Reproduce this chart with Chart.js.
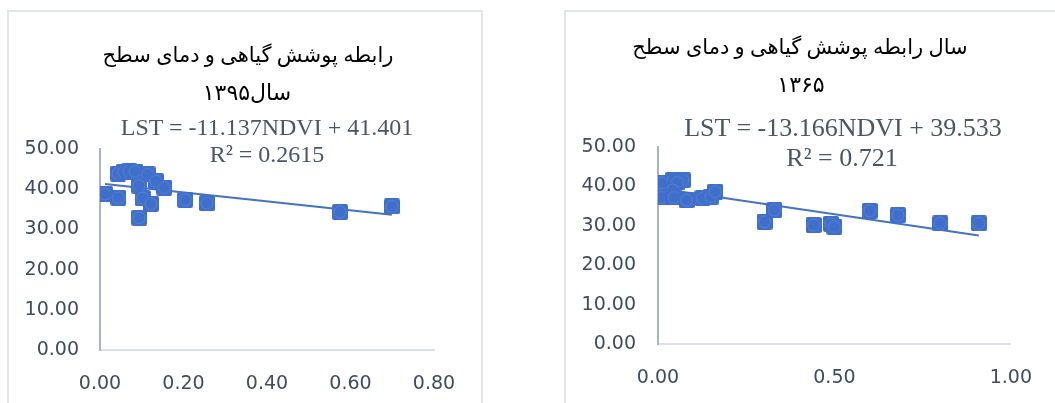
<!DOCTYPE html>
<html>
<head>
<meta charset="utf-8">
<script src="https://cdn.jsdelivr.net/npm/chart.js@4.4.0/dist/chart.umd.min.js"></script>
<style>
  html, body { margin: 0; padding: 0; background: #fff; overflow: hidden; width: 1055px; height: 403px; }
  .box { position: absolute; border: 2px solid #e1e4ea; box-sizing: border-box; background: #fff; }
  .box canvas { position: absolute; left: 0; top: 0; }
  .t { position: absolute; white-space: nowrap; line-height: 1; transform: translate(-50%, -50%); }
  .title { font-family: "Liberation Serif", "DejaVu Sans", serif; font-size: 21px; color: #000; direction: rtl; }
  .eq { font-family: "Liberation Serif", serif; color: #4a5568; }
</style>
</head>
<body>
<div class="box" id="boxL" style="left:7px; top:10px; width:476px; height:420px;">
  <canvas id="chartL"></canvas>
</div>
<div class="box" id="boxR" style="left:564px; top:10px; width:520px; height:420px;">
  <canvas id="chartR"></canvas>
</div>

<div class="t title" style="left:248px; top:55px;">رابطه پوشش گیاهی و دمای سطح</div>
<div class="t title" style="left:247px; top:93px; font-size:22px;">سال۱۳۹۵</div>
<div class="t eq" style="left:267px; top:127px; font-size:24px;">LST = -11.137NDVI + 41.401</div>
<div class="t eq" style="left:267px; top:154px; font-size:24px;">R² = 0.2615</div>

<div class="t title" style="left:800px; top:47px;">سال  رابطه پوشش گیاهی و دمای سطح</div>
<div class="t title" style="left:801px; top:85px; font-size:22px;">۱۳۶۵</div>
<div class="t eq" style="left:843px; top:128px; font-size:26px;">LST = -13.166NDVI + 39.533</div>
<div class="t eq" style="left:842px; top:158px; font-size:26px;">R² = 0.721</div>

<script>
// سال ۱۳۹۵
var ndvi1395 = [0.012, 0.044, 0.043, 0.057, 0.070, 0.084, 0.114, 0.134, 0.154, 0.094, 0.102, 0.122, 0.094, 0.204, 0.256, 0.575, 0.699];
var lst1395  = [38.8, 37.9, 43.9, 44.3, 44.5, 44.4, 43.7, 42.0, 40.4, 40.9, 37.8, 36.4, 32.9, 37.4, 36.5, 34.3, 35.7];
var trend1395 = { slope: -11.137, intercept: 41.401 };

// سال ۱۳۶۵
var ndvi1365 = [0.010, 0.010, 0.042, 0.070, 0.055, 0.042, 0.046, 0.081, 0.126, 0.150, 0.162, 0.302, 0.330, 0.441, 0.490, 0.500, 0.600, 0.680, 0.800, 0.909];
var lst1365  = [40.9, 37.2, 41.6, 41.6, 41.0, 39.1, 37.2, 36.5, 37.0, 37.4, 38.7, 31.0, 34.0, 30.2, 30.5, 29.8, 33.8, 32.7, 30.6, 30.6];
var trend1365 = { slope: -13.166, intercept: 39.533 };

var yTicks = [0, 50, 10];
var xTicks1395 = [0, 0.8, 0.2];
var xTicks1365 = [0, 1, 0.5];

// excel-like marker: blue square with a faint ring
function makeMarker() {
  var c = document.createElement('canvas');
  c.width = 16; c.height = 16;
  var g = c.getContext('2d');
  g.fillStyle = '#3f6fcb';
  g.beginPath();
  g.roundRect(0, 0, 16, 16, 2);
  g.fill();
  g.strokeStyle = 'rgba(120,160,230,0.4)';
  g.lineWidth = 1;
  g.beginPath();
  g.arc(8, 8, 6, 0, Math.PI * 2);
  g.stroke();
  return c;
}
var marker = makeMarker();

function points(xs, ys) {
  return xs.map(function (x, i) { return { x: x, y: ys[i] }; });
}
function trendLine(xs, t) {
  var lo = Math.min.apply(null, xs), hi = Math.max.apply(null, xs);
  return [{ x: lo, y: t.slope * lo + t.intercept }, { x: hi, y: t.slope * hi + t.intercept }];
}

function makeChart(id, w, h, xs, ys, trend, xt, pad) {
  var cv = document.getElementById(id);
  cv.width = w; cv.height = h;
  cv.style.width = w + 'px'; cv.style.height = h + 'px';
  return new Chart(cv, {
    type: 'scatter',
    data: {
      datasets: [{
        data: points(xs, ys),
        pointStyle: marker,
        pointRadius: 8,
        pointHoverRadius: 8,
        order: 1
      }, {
        type: 'line',
        data: trendLine(xs, trend),
        borderColor: '#4472c4',
        borderWidth: 2,
        pointRadius: 0,
        fill: false,
        order: 2
      }]
    },
    options: {
      responsive: false,
      animation: false,
      layout: { padding: { top: pad.top, right: pad.right, left: 0, bottom: 0 } },
      plugins: { legend: { display: false }, tooltip: { enabled: false } },
      scales: {
        x: {
          type: 'linear',
          min: xt[0], max: xt[1],
          afterFit: function (s) { s.height = h - pad.bottom; },
          grid: { display: false, drawTicks: false },
          border: { color: '#dde1e6', width: 2 },
          ticks: {
            stepSize: xt[2],
            padding: pad.xPad,
            color: '#3f4b5e',
            font: { family: 'DejaVu Sans', size: 19 },
            callback: function (v) { return v.toFixed(2); }
          }
        },
        y: {
          min: yTicks[0], max: yTicks[1],
          afterFit: function (s) { s.width = pad.left; },
          grid: { display: false, drawTicks: false },
          border: { color: '#aab4c8', width: 2 },
          ticks: {
            stepSize: yTicks[2],
            padding: pad.yPad,
            color: '#3f4b5e',
            font: { family: 'DejaVu Sans', size: 19 },
            callback: function (v) { return v.toFixed(2); }
          }
        }
      }
    }
  });
}

// canvases start at the inner corner of each box (box + 2px border)
makeChart('chartL', 472, 392, ndvi1395, lst1395, trend1395, xTicks1395,
  { top: 137, right: 47, left: 91, bottom: 338, xPad: 23, yPad: 21 });
makeChart('chartR', 489, 392, ndvi1365, lst1365, trend1365, xTicks1365,
  { top: 135, right: 42, left: 92, bottom: 332, xPad: 23, yPad: 22 });
</script>
</body>
</html>
